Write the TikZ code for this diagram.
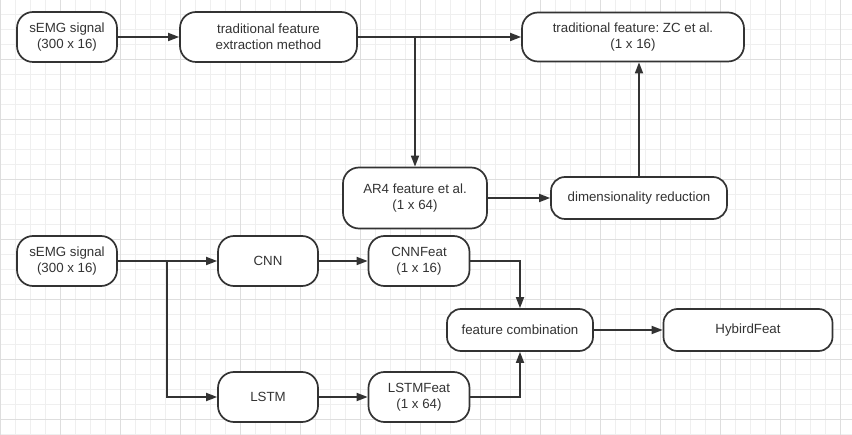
\documentclass[tikz,border=0pt]{standalone}
\usepackage{fontspec}
\setmainfont{Liberation Sans}
\usetikzlibrary{arrows.meta}
\definecolor{gridminor}{HTML}{EFEFEF}
\definecolor{gridmajor}{HTML}{DEDEDE}
\definecolor{ink}{HTML}{333333}
\begin{document}
\frenchspacing
\begin{tikzpicture}[x=1pt,y=-1pt,
  box/.style={draw=ink, line width=1.7pt, rounded corners=16pt, fill=white, text=ink,
    align=center, inner sep=0pt, font=\fontsize{13.3}{15.5}\selectfont},
  conn/.style={draw=ink, line width=1.7pt, -{Triangle[length=11pt,width=8pt]}},
  gminor/.style={draw=gridminor, line width=0.8pt},
  gmajor/.style={draw=gridmajor, line width=0.8pt}
]
\useasboundingbox (0,0) rectangle (852,435);
\fill[white] (0,0) rectangle (852,435);
% grid
\foreach \i in {0,...,56} { \draw[gminor] (\i*15,0) -- (\i*15,435); }
\foreach \k in {0,...,29} { \draw[gminor] (0,\k*15-0.5) -- (852,\k*15-0.5); }
\foreach \i in {0,...,14} { \draw[gmajor] (\i*60,0) -- (\i*60,435); }
\foreach \k in {1,...,7} { \draw[gmajor] (0,\k*60-0.5) -- (852,\k*60-0.5); }

% nodes
\node[box, minimum width=100pt, minimum height=50pt] (s1) at (67,37) {sEMG signal\\(300 x 16)};
\node[box, minimum width=177pt, minimum height=50pt] (tfe) at (268.5,37) {traditional feature\\extraction method};
\node[box, minimum width=222pt, minimum height=49pt] (tfz) at (633,37) {traditional feature: ZC et al.\\(1 x 16)};
\node[box, minimum width=144pt, minimum height=61pt] (ar4) at (415,198) {AR4 feature et al.\\(1 x 64)};
\node[box, minimum width=176pt, minimum height=42pt, rounded corners=14pt] (dim) at (639,198) {dimensionality reduction};
\node[box, minimum width=100pt, minimum height=50pt] (s2) at (67,261) {sEMG signal\\(300 x 16)};
\node[box, minimum width=100pt, minimum height=50pt] (cnn) at (268,261) {CNN};
\node[box, minimum width=101pt, minimum height=50pt] (cnnf) at (419,261) {CNNFeat\\(1 x 16)};
\node[box, minimum width=100pt, minimum height=50pt] (lstm) at (268,397) {LSTM};
\node[box, minimum width=101pt, minimum height=50pt] (lstmf) at (419,397) {LSTMFeat\\(1 x 64)};
\node[box, minimum width=146pt, minimum height=42pt, rounded corners=14pt] (fc) at (520,330) {feature combination};
\node[box, minimum width=169pt, minimum height=42pt, rounded corners=14pt] (hyb) at (748,330) {HybirdFeat};

% connectors
\draw[conn] (s1.east) -- (tfe.west);
\draw[conn] (tfe.east) -- (tfz.west);
\coordinate (b1) at (tfe.east -| ar4.north);
\draw[conn] (b1) -- (ar4.north);
\draw[conn] (ar4.east) -- (dim.west);
\draw[conn] (dim.north) -- (dim.north |- tfz.south);
\draw[conn] (s2.east) -- (cnn.west);
\coordinate (b2) at (167,261);
\draw[conn] (b2) |- (lstm.west);
\draw[conn] (cnn.east) -- (cnnf.west);
\draw[conn] (lstm.east) -- (lstmf.west);
\draw[conn] (cnnf.east) -| (fc.north);
\draw[conn] (lstmf.east) -| (fc.south);
\draw[conn] (fc.east) -- (hyb.west);
\end{tikzpicture}
\end{document}
